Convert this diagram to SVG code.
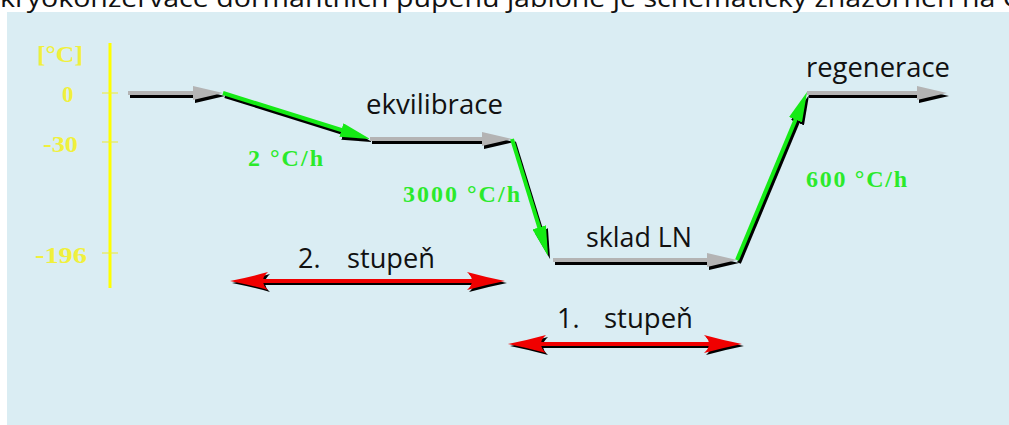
<svg xmlns="http://www.w3.org/2000/svg" width="1009" height="425" viewBox="0 0 1009 425">
<style>
.bg{fill:#daedf3}
.axis{stroke:#ffff00;stroke-width:3}
.tick{stroke:#ecec50;stroke-width:1.2}
.ylab{font-family:"Liberation Serif",serif;font-weight:bold;font-size:23px;fill:#f0f03c}
.glab{font-family:"Liberation Serif",serif;font-weight:bold;font-size:24px;fill:#2bea2b}
.lab{font-family:"Open Sans","Liberation Sans",sans-serif;font-size:27px;fill:#111}
.gray{stroke:#b4b4b4;stroke-width:4;fill:none;marker-end:url(#hGray)}
.green{stroke:#15ea15;stroke-width:4;fill:none;marker-end:url(#hGreen)}
.shadow{stroke:#000;stroke-width:4;fill:none;marker-end:url(#hBlack)}
.red{stroke:#f00000;stroke-width:4;fill:none;marker-start:url(#hRed);marker-end:url(#hRed)}
.rshadow{stroke:#000;stroke-width:4;fill:none;marker-start:url(#hRedS);marker-end:url(#hRedS)}
</style>
<defs>
<marker id="hGray" viewBox="0 0 30 14" refX="20" refY="7" markerWidth="30" markerHeight="14" markerUnits="userSpaceOnUse" orient="auto"><path d="M0,0 L30,7 L0,14 z" fill="#b4b4b4"/></marker>
<marker id="hGreen" viewBox="0 0 30 14" refX="20" refY="7" markerWidth="30" markerHeight="14" markerUnits="userSpaceOnUse" orient="auto"><path d="M0,0 L30,7 L0,14 z" fill="#15ea15"/></marker>
<marker id="hBlack" viewBox="0 0 30 14" refX="20" refY="7" markerWidth="30" markerHeight="14" markerUnits="userSpaceOnUse" orient="auto"><path d="M0,0 L30,7 L0,14 z" fill="#000"/></marker>
<marker id="hRed" viewBox="0 0 38 20" refX="28" refY="10" markerWidth="38" markerHeight="20" markerUnits="userSpaceOnUse" orient="auto-start-reverse"><path d="M0,1 Q18,6 38,10 Q18,14 0,19 Q10,10 0,1 z" fill="#f00000"/></marker>
<marker id="hRedS" viewBox="0 0 38 20" refX="28" refY="10" markerWidth="38" markerHeight="20" markerUnits="userSpaceOnUse" orient="auto-start-reverse"><path d="M0,1 Q18,6 38,10 Q18,14 0,19 Q10,10 0,1 z" fill="#000"/></marker>
</defs>
<rect x="7" y="12" width="1002" height="413" class="bg"/>
<text x="0" y="7" font-family="'Open Sans','Liberation Sans',sans-serif" font-size="25" fill="#111" textLength="1025" lengthAdjust="spacingAndGlyphs">kryokonzervace dormantních pupenů jabloně je schematicky znázorněn na O</text>
<g id="axis">
<line x1="110" y1="43" x2="110" y2="288" class="axis"/>
<line x1="102" y1="93" x2="118" y2="93" class="tick"/>
<line x1="102" y1="142" x2="118" y2="142" class="tick"/>
<line x1="102" y1="253" x2="118" y2="253" class="tick"/>
<text x="37" y="62" class="ylab" textLength="46" lengthAdjust="spacingAndGlyphs">[°C]</text>
<text x="62" y="102" class="ylab">0</text>
<text x="43" y="152" class="ylab" textLength="35" lengthAdjust="spacingAndGlyphs">-30</text>
<text x="35" y="263" class="ylab" textLength="52" lengthAdjust="spacingAndGlyphs">-196</text>
</g>
<g id="connectors">
<g transform="translate(2,3)">
<line x1="128" y1="93" x2="213" y2="93" class="shadow"/>
<line x1="223" y1="93" x2="360.5" y2="136" class="shadow"/>
<line x1="370" y1="139" x2="502" y2="139" class="shadow"/>
<line x1="512" y1="139" x2="545.1" y2="246.4" class="shadow"/>
<line x1="553" y1="260" x2="727" y2="260" class="shadow"/>
<line x1="737" y1="260" x2="803.2" y2="101.2" class="shadow"/>
<line x1="807" y1="93" x2="937" y2="93" class="shadow"/>
</g>
<line x1="128" y1="93" x2="213" y2="93" class="gray"/>
<line x1="223" y1="93" x2="360.5" y2="136" class="green"/>
<line x1="370" y1="139" x2="502" y2="139" class="gray"/>
<line x1="512" y1="139" x2="545.1" y2="246.4" class="green"/>
<line x1="553" y1="260" x2="727" y2="260" class="gray"/>
<line x1="737" y1="260" x2="803.2" y2="101.2" class="green"/>
<line x1="807" y1="93" x2="937" y2="93" class="gray"/>
<g transform="translate(2,2)">
<line x1="240" y1="281" x2="495" y2="281" class="rshadow"/>
<line x1="518" y1="344" x2="732" y2="344" class="rshadow"/>
</g>
<line x1="240" y1="281" x2="495" y2="281" class="red"/>
<line x1="518" y1="344" x2="732" y2="344" class="red"/>
</g>
<g id="ekvilibrace"><text x="366" y="114" class="lab" textLength="137" lengthAdjust="spacingAndGlyphs">ekvilibrace</text></g>
<g id="regenerace"><text x="806" y="77" class="lab" textLength="144" lengthAdjust="spacingAndGlyphs">regenerace</text></g>
<g id="sklad"><text x="586" y="247" class="lab" textLength="106" lengthAdjust="spacingAndGlyphs">sklad LN</text></g>
<g id="stupen2"><text x="298" y="268" class="lab">2.</text><text x="347" y="268" class="lab" textLength="88" lengthAdjust="spacingAndGlyphs">stupeň</text></g>
<g id="stupen1"><text x="557" y="328" class="lab">1.</text><text x="604" y="328" class="lab" textLength="89" lengthAdjust="spacingAndGlyphs">stupeň</text></g>
<g id="rates">
<text x="248" y="166" class="glab" textLength="75" lengthAdjust="spacing">2 °C/h</text>
<text x="403" y="202" class="glab" textLength="117" lengthAdjust="spacing">3000 °C/h</text>
<text x="806" y="187" class="glab" textLength="101" lengthAdjust="spacing">600 °C/h</text>
</g>
</svg>
